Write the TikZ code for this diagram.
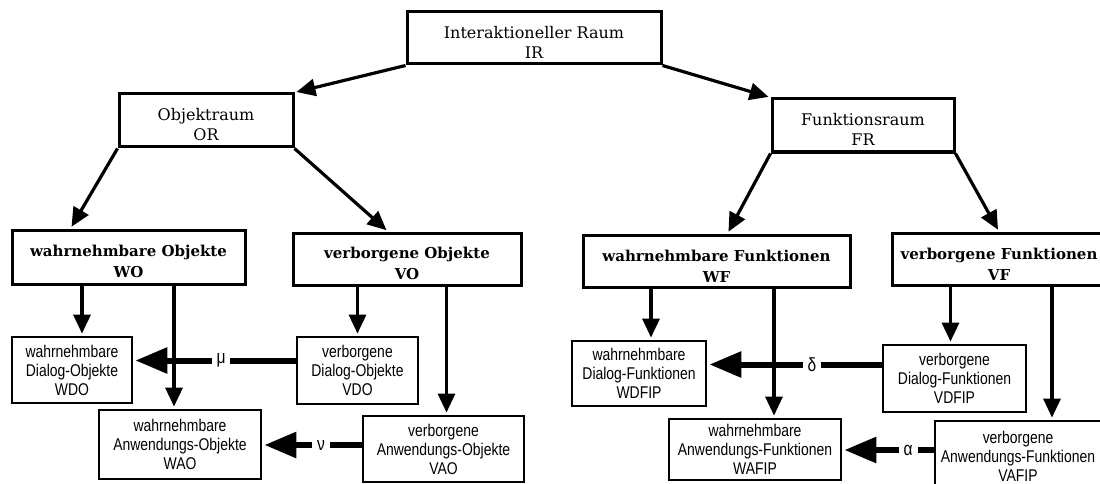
\documentclass[tikz,border=0pt]{standalone}
\usepackage{fontspec}
\setmainfont{DejaVu Serif}
\newfontfamily\narrowsans[FakeStretch=0.82]{Liberation Sans}
\usetikzlibrary{arrows.meta}

% Stuetze, damit der Text in den oberen Kaesten etwas tiefer sitzt
\newcommand{\oben}{\rule{0pt}{21pt}}

\tikzset{
    raum/.style={draw, line width=3pt, inner sep=0pt, align=center, font=\fontsize{16}{20}\selectfont},
    teilraum/.style={draw, line width=3pt, inner sep=0pt, align=center, font=\bfseries\fontsize{15}{21}\selectfont},
    basis/.style={draw, line width=2.8pt, inner sep=0pt, align=center, font=\narrowsans\fontsize{17}{19}\selectfont},
    pfeil/.style={line width=3.2pt, -{Triangle[length=19pt,width=17pt]}, shorten >=2pt},
    abbildung/.style={line width=6pt, -{Triangle[length=32pt,width=25pt]}, shorten >=2pt},
    symbol/.style={fill=white, inner xsep=5pt, inner ysep=1pt, font=\narrowsans\fontsize{19}{19}\selectfont}
}

\begin{document}
\begin{tikzpicture}[x=1pt, y=-1pt]
    \useasboundingbox (0,0) rectangle (1100,484);

    % Oberste Ebene
    \node[raum, minimum width=254pt, minimum height=52pt] (IR) at (534,38) {\oben Interaktioneller Raum\\IR};
    \node[raum, minimum width=174pt, minimum height=53pt] (OR) at (206,120.5) {\oben Objektraum\\OR};
    \node[raum, minimum width=182pt, minimum height=53pt] (FR) at (863,125.5) {\oben Funktionsraum\\FR};

    % Teilraeume
    \node[teilraum, minimum width=233pt, minimum height=54pt] (WO) at (128.5,257) {\oben wahrnehmbare Objekte\\WO};
    \node[teilraum, minimum width=228pt, minimum height=52pt] (VO) at (407,259) {\oben verborgene Objekte\\VO};
    \node[teilraum, minimum width=267pt, minimum height=52pt] (WF) at (716.5,261) {\oben wahrnehmbare Funktionen\\WF};
    \node[teilraum, minimum width=214pt, minimum height=52pt] (VF) at (999,259) {\oben verborgene Funktionen\\VF};

    % Dialog- und Anwendungsebene
    \node[basis, minimum width=120pt, minimum height=66pt] (WDO) at (72,370) {wahrnehmbare\\Dialog-Objekte\\WDO};
    \node[basis, minimum width=121pt, minimum height=67pt] (VDO) at (357.5,370.5) {verborgene\\Dialog-Objekte\\VDO};
    \node[basis, minimum width=162pt, minimum height=69pt] (WAO) at (180,444.5) {wahrnehmbare\\Anwendungs-Objekte\\WAO};
    \node[basis, minimum width=161pt, minimum height=66pt] (VAO) at (443.5,449) {verborgene\\Anwendungs-Objekte\\VAO};
    \node[basis, minimum width=134pt, minimum height=65pt] (WDFIP) at (639,373.5) {wahrnehmbare\\Dialog-Funktionen\\WDFIP};
    \node[basis, minimum width=143pt, minimum height=67pt] (VDFIP) at (954.5,378.5) {verborgene\\Dialog-Funktionen\\VDFIP};
    \node[basis, minimum width=172pt, minimum height=61pt] (WAFIP) at (755,449.5) {wahrnehmbare\\Anwendungs-Funktionen\\WAFIP};
    \node[basis, minimum width=166pt, minimum height=70pt] (VAFIP) at (1018,456) {verborgene\\Anwendungs-Funktionen\\VAFIP};

    % Zerlegung
    \draw[pfeil] (IR.south west) -- (OR.north east);
    \draw[pfeil] (IR.south east) -- (FR.north west);
    \draw[pfeil] (OR.south west) -- ([xshift=-58pt]WO.north);
    \draw[pfeil] (OR.south east) -- ([xshift=-19pt]VO.north);
    \draw[pfeil] (FR.south west) -- ([xshift=11pt]WF.north);
    \draw[pfeil] (FR.south east) -- (VF.north);

    \foreach \von/\nach/\dx in {WO/WDO/10, WO/WAO/-6, VO/VDO/0, VO/VAO/3, WF/WDFIP/12, WF/WAFIP/19, VF/VDFIP/-4, VF/VAFIP/34}
        \draw[pfeil] ([xshift=\dx pt]\von.south -| \nach.north) -- ([xshift=\dx pt]\nach.north);

    % Abbildungen
    \draw[abbildung] ([yshift=10pt]VDO.west) -- ([yshift=10pt]VDO.west -| WDO.east) node[symbol, pos=0.46] {μ};
    \draw[abbildung] ([yshift=4pt]VAO.west) -- ([yshift=4pt]VAO.west -| WAO.east) node[symbol, pos=0.41] {ν};
    \draw[abbildung] ([yshift=14pt]VDFIP.west) -- ([yshift=14pt]VDFIP.west -| WDFIP.east) node[symbol, pos=0.4] {δ};
    \draw[abbildung] ([yshift=6pt]VAFIP.west) -- ([yshift=6pt]VAFIP.west -| WAFIP.east) node[symbol, pos=0.28] {α};
\end{tikzpicture}
\end{document}
